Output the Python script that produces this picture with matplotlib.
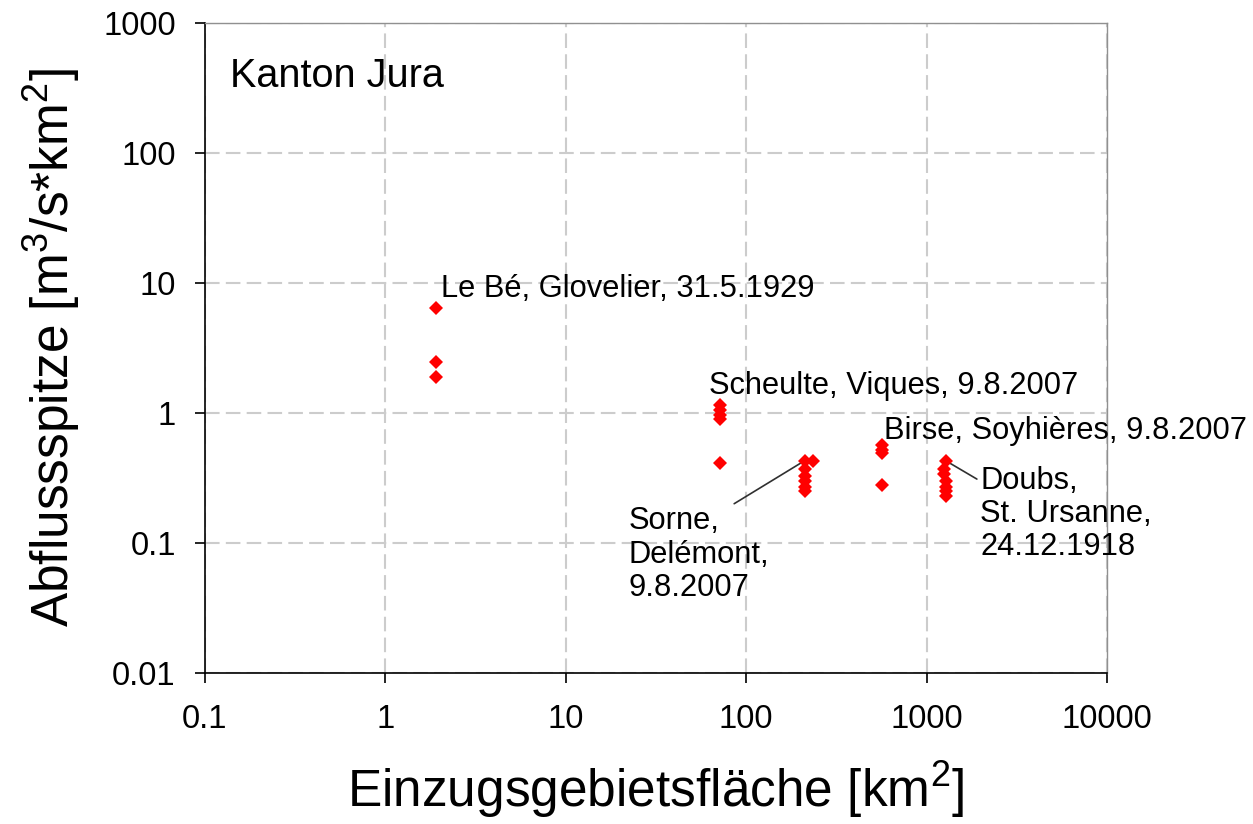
import numpy as np
import matplotlib
matplotlib.use("Agg")
import matplotlib.pyplot as plt
from matplotlib.ticker import FixedLocator, FuncFormatter, NullLocator

plt.rcParams['font.family'] = ['Liberation Sans', 'DejaVu Sans']
plt.rcParams['mathtext.default'] = 'regular'

# catchment area [km2] and specific peak discharge [m3/s*km2]
le_be_x = [1.9, 1.9, 1.9]
le_be_y = [6.4, 2.45, 1.9]

scheulte_x = [72, 72, 72, 72, 72]
scheulte_y = [1.15, 1.05, 0.97, 0.90, 0.41]

sorne_x = [211, 234, 211, 211, 211, 211, 211]
sorne_y = [0.43, 0.43, 0.37, 0.33, 0.30, 0.27, 0.25]

birse_x = [567, 567, 567, 567]
birse_y = [0.57, 0.52, 0.49, 0.28]

doubs_x = [1274, 1250, 1250, 1274, 1274, 1274, 1274]
doubs_y = [0.43, 0.37, 0.34, 0.30, 0.27, 0.25, 0.23]

x_ticks = [0.1, 1, 10, 100, 1000, 10000]
y_ticks = [0.01, 0.1, 1, 10, 100, 1000]

fig = plt.figure(figsize=(12.53, 8.24), dpi=100)
ax = fig.add_axes([0.1636, 0.1833, 0.7199, 0.7887])

for xs, ys in [(le_be_x, le_be_y), (scheulte_x, scheulte_y), (sorne_x, sorne_y),
               (birse_x, birse_y), (doubs_x, doubs_y)]:
    ax.plot(xs, ys, linestyle='none', marker='D', markersize=6.8,
            color='#ff0000', markeredgewidth=0, zorder=5)

ax.set_xscale('log')
ax.set_yscale('log')
ax.set_xlim(0.1, 10000)
ax.set_ylim(0.01, 1000)
ax.xaxis.set_major_locator(FixedLocator(x_ticks))
ax.yaxis.set_major_locator(FixedLocator(y_ticks))
ax.xaxis.set_minor_locator(NullLocator())
ax.yaxis.set_minor_locator(NullLocator())
fmt = FuncFormatter(lambda v, p: '%g' % v)
ax.xaxis.set_major_formatter(fmt)
ax.yaxis.set_major_formatter(fmt)

ax.grid(True, color='#cccccc', linewidth=1.5, dashes=(7, 3))
ax.set_axisbelow(True)
for side in ['left', 'bottom']:
    ax.spines[side].set_color('black')
    ax.spines[side].set_linewidth(1.2)
for side in ['top', 'right']:
    ax.spines[side].set_color('#909090')
    ax.spines[side].set_linewidth(1.0)

ax.tick_params(axis='x', which='major', direction='out', length=7, width=1.2,
               labelsize=23.5, pad=15, top=False)
ax.tick_params(axis='y', which='major', direction='out', length=7, width=1.2,
               labelsize=23.5, pad=14, right=False)

ax.set_xlabel('Einzugsgebietsfläche [km$^2$]', fontsize=37, labelpad=18)
ax.set_ylabel('Abflussspitze [m$^3$/s*km$^2$]', fontsize=37, labelpad=15)

ax.text(0.028, 0.918, 'Kanton Jura', transform=ax.transAxes, fontsize=28.5,
        ha='left', va='center')

line = dict(arrowstyle='-', color='#303030', lw=1.2, shrinkA=0, shrinkB=0)
ax.annotate('Le Bé, Glovelier, 31.5.1929', xy=(le_be_x[0], le_be_y[0]),
            xytext=(3.6, 13.7), textcoords='offset points', fontsize=22.2,
            ha='left', va='center')
ax.annotate('Scheulte, Viques, 9.8.2007', xy=(scheulte_x[0], scheulte_y[0]),
            xytext=(-8.6, 13.7), textcoords='offset points', fontsize=22.2,
            ha='left', va='center')
ax.annotate('Birse, Soyhières, 9.8.2007', xy=(birse_x[0], birse_y[0]),
            xytext=(1.4, 10), textcoords='offset points', fontsize=22.2,
            ha='left', va='center')
ax.annotate('Doubs,\nSt. Ursanne,\n24.12.1918', xy=(doubs_x[0], doubs_y[0]),
            xytext=(25, -3.5), textcoords='offset points', fontsize=22.2,
            ha='left', va='top', linespacing=1.15,
            arrowprops=dict(line, relpos=(-0.02, 0.86)))
ax.annotate('Sorne,\nDelémont,\n9.8.2007', xy=(sorne_x[0], sorne_y[0]),
            xytext=(-127, -33), textcoords='offset points', fontsize=22.2,
            ha='left', va='top', linespacing=1.15,
            arrowprops=dict(line, relpos=(0.63, 0.92)))

fig.savefig('out.png', dpi=100)
